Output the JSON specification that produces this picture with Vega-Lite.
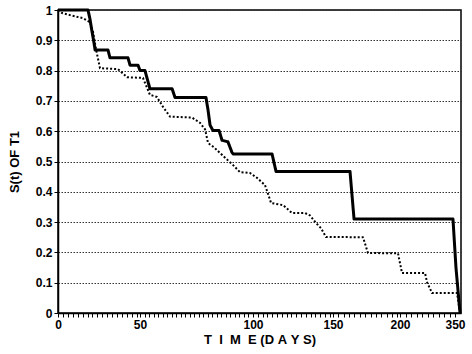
{
  "$schema": "https://vega.github.io/schema/vega-lite/v6.json",
  "autosize": "none",
  "width": 403,
  "height": 303,
  "padding": {"left": 58, "top": 10, "right": 11, "bottom": 41},
  "background": "white",
  "config": {
    "view": {"stroke": "black", "strokeWidth": 1.5},
    "font": "Liberation Sans"
  },
  "data": {
    "values": [
      {"group": "T1 solid", "t": 0, "s": 1},
      {"group": "T1 solid", "t": 18.3, "s": 1},
      {"group": "T1 solid", "t": 19.5, "s": 0.97},
      {"group": "T1 solid", "t": 20.7, "s": 0.93},
      {"group": "T1 solid", "t": 22.0, "s": 0.89},
      {"group": "T1 solid", "t": 22.6, "s": 0.868},
      {"group": "T1 solid", "t": 30.5, "s": 0.868},
      {"group": "T1 solid", "t": 31.7, "s": 0.842},
      {"group": "T1 solid", "t": 42.7, "s": 0.842},
      {"group": "T1 solid", "t": 43.9, "s": 0.818},
      {"group": "T1 solid", "t": 48.8, "s": 0.818},
      {"group": "T1 solid", "t": 50.0, "s": 0.8},
      {"group": "T1 solid", "t": 52.2, "s": 0.8},
      {"group": "T1 solid", "t": 54.4, "s": 0.74},
      {"group": "T1 solid", "t": 64.2, "s": 0.74},
      {"group": "T1 solid", "t": 65.5, "s": 0.711},
      {"group": "T1 solid", "t": 79.2, "s": 0.711},
      {"group": "T1 solid", "t": 80.1, "s": 0.67},
      {"group": "T1 solid", "t": 81.0, "s": 0.62},
      {"group": "T1 solid", "t": 82.3, "s": 0.602},
      {"group": "T1 solid", "t": 85.0, "s": 0.602},
      {"group": "T1 solid", "t": 86.3, "s": 0.57},
      {"group": "T1 solid", "t": 88.9, "s": 0.565},
      {"group": "T1 solid", "t": 90.7, "s": 0.53},
      {"group": "T1 solid", "t": 91.2, "s": 0.525},
      {"group": "T1 solid", "t": 111.9, "s": 0.525},
      {"group": "T1 solid", "t": 114.4, "s": 0.467},
      {"group": "T1 solid", "t": 162.7, "s": 0.467},
      {"group": "T1 solid", "t": 165.7, "s": 0.31},
      {"group": "T1 solid", "t": 344.5, "s": 0.31},
      {"group": "T1 solid", "t": 350.8, "s": 0.15},
      {"group": "T1 solid", "t": 354.2, "s": 0},
      {"group": "T1 dotted", "t": 0, "s": 1},
      {"group": "T1 dotted", "t": 2.4, "s": 0.99},
      {"group": "T1 dotted", "t": 7.3, "s": 0.983},
      {"group": "T1 dotted", "t": 15.2, "s": 0.973},
      {"group": "T1 dotted", "t": 19.5, "s": 0.96},
      {"group": "T1 dotted", "t": 21.3, "s": 0.93},
      {"group": "T1 dotted", "t": 23.2, "s": 0.87},
      {"group": "T1 dotted", "t": 25.6, "s": 0.808},
      {"group": "T1 dotted", "t": 36.6, "s": 0.805},
      {"group": "T1 dotted", "t": 42.1, "s": 0.778},
      {"group": "T1 dotted", "t": 51.3, "s": 0.776},
      {"group": "T1 dotted", "t": 54.4, "s": 0.72},
      {"group": "T1 dotted", "t": 57.5, "s": 0.713},
      {"group": "T1 dotted", "t": 60.2, "s": 0.68},
      {"group": "T1 dotted", "t": 63.3, "s": 0.648},
      {"group": "T1 dotted", "t": 73.0, "s": 0.645},
      {"group": "T1 dotted", "t": 76.5, "s": 0.628},
      {"group": "T1 dotted", "t": 78.8, "s": 0.606},
      {"group": "T1 dotted", "t": 80.1, "s": 0.561},
      {"group": "T1 dotted", "t": 82.7, "s": 0.547},
      {"group": "T1 dotted", "t": 86.7, "s": 0.519},
      {"group": "T1 dotted", "t": 91.2, "s": 0.488},
      {"group": "T1 dotted", "t": 94.2, "s": 0.465},
      {"group": "T1 dotted", "t": 98.7, "s": 0.462},
      {"group": "T1 dotted", "t": 102.5, "s": 0.446},
      {"group": "T1 dotted", "t": 107.5, "s": 0.422},
      {"group": "T1 dotted", "t": 109.4, "s": 0.393},
      {"group": "T1 dotted", "t": 111.3, "s": 0.363},
      {"group": "T1 dotted", "t": 118.8, "s": 0.356},
      {"group": "T1 dotted", "t": 124.4, "s": 0.33},
      {"group": "T1 dotted", "t": 132.5, "s": 0.33},
      {"group": "T1 dotted", "t": 135.6, "s": 0.322},
      {"group": "T1 dotted", "t": 139.4, "s": 0.297},
      {"group": "T1 dotted", "t": 142.5, "s": 0.28},
      {"group": "T1 dotted", "t": 145.6, "s": 0.251},
      {"group": "T1 dotted", "t": 172.4, "s": 0.25},
      {"group": "T1 dotted", "t": 176.1, "s": 0.198},
      {"group": "T1 dotted", "t": 198.5, "s": 0.197},
      {"group": "T1 dotted", "t": 205.5, "s": 0.132},
      {"group": "T1 dotted", "t": 268.2, "s": 0.132},
      {"group": "T1 dotted", "t": 273.6, "s": 0.102},
      {"group": "T1 dotted", "t": 287.3, "s": 0.066},
      {"group": "T1 dotted", "t": 351.7, "s": 0.066},
      {"group": "T1 dotted", "t": 354.2, "s": 0}
    ]
  },
  "mark": {"type": "line", "interpolate": "linear", "strokeCap": "butt", "strokeJoin": "round"},
  "encoding": {
    "x": {
      "field": "t",
      "type": "quantitative",
      "scale": {
        "domain": [0, 50, 100, 150, 200, 350, 355],
        "range": [0, 82, 195, 275, 342, 397, 403],
        "nice": false,
        "zero": false
      },
      "axis": {
        "title": "T\u00a0\u00a0I\u00a0\u00a0M\u00a0\u00a0E\u00a0(D\u00a0A\u00a0Y\u00a0S)",
        "titleFont": "Liberation Sans",
        "titleFontSize": 13,
        "titleFontWeight": "bold",
        "titleColor": "black",
        "titlePadding": 3,
        "values": [0, 3, 6, 9, 12, 15, 18, 21, 24, 27, 30, 33, 36, 39, 42, 45, 48,
                   50, 52, 54, 56, 58, 60, 62, 64, 66, 68, 70, 72, 74, 76, 78, 80, 82, 84, 86, 88, 90, 92, 94, 96, 98,
                   100, 103, 106, 109, 112, 115, 118, 121, 124, 127, 130, 133, 136, 139, 142, 145, 148,
                   150, 154, 158, 162, 166, 170, 174, 178, 182, 186, 190, 194, 198,
                   200, 215, 230, 245, 260, 275, 290, 305, 320, 335, 350],
        "labelExpr": "indexof([0, 50, 100, 150, 200, 350], datum.value) >= 0 ? datum.label : ''",
        "labelOverlap": false,
        "labelFlush": false,
        "labelBound": false,
        "labelFont": "Liberation Sans",
        "labelFontSize": 12,
        "labelFontWeight": "bold",
        "labelColor": "black",
        "labelPadding": 2,
        "tickSize": 4,
        "tickColor": "black",
        "tickWidth": 1,
        "domainColor": "black",
        "domainWidth": 1.5,
        "grid": false
      }
    },
    "y": {
      "field": "s",
      "type": "quantitative",
      "scale": {"domain": [0, 1], "nice": false},
      "axis": {
        "title": "S(t) OF T1",
        "titleFont": "Liberation Sans",
        "titleFontSize": 13,
        "titleFontWeight": "bold",
        "titleColor": "black",
        "titlePadding": 14,
        "values": [0, 0.1, 0.2, 0.3, 0.4, 0.5, 0.6, 0.7, 0.8, 0.9, 1],
        "format": "~g",
        "labelFont": "Liberation Sans",
        "labelFontSize": 12,
        "labelFontWeight": "bold",
        "labelColor": "black",
        "labelPadding": 2,
        "tickSize": 4,
        "tickColor": "black",
        "domainColor": "black",
        "domainWidth": 1.5,
        "grid": true,
        "gridColor": "#333333",
        "gridDash": [1.5, 1.5],
        "gridWidth": 1
      }
    },
    "detail": {"field": "group"},
    "color": {"value": "black"},
    "strokeDash": {
      "field": "group",
      "type": "nominal",
      "scale": {"domain": ["T1 solid", "T1 dotted"], "range": [[1, 0], [2, 2]]},
      "legend": null
    },
    "strokeWidth": {
      "field": "group",
      "type": "nominal",
      "scale": {"domain": ["T1 solid", "T1 dotted"], "range": [3, 2]},
      "legend": null
    }
  }
}
